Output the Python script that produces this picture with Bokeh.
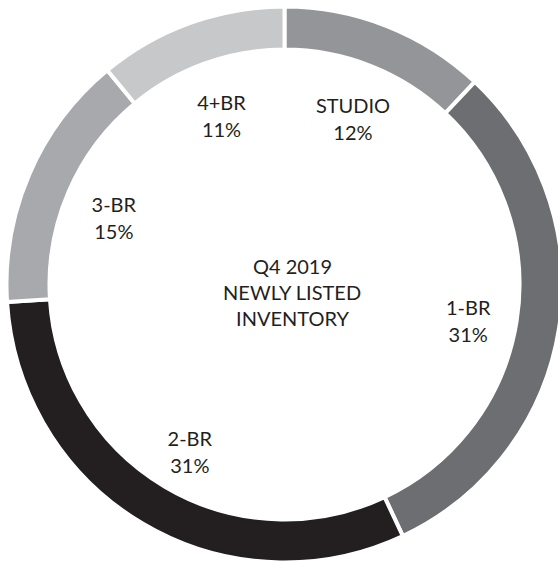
import numpy as np
from bokeh.plotting import figure
from bokeh.models import Range1d, ColumnDataSource
from bokeh.core.properties import value
from bokeh.embed import file_html
from bokeh.resources import INLINE

categories = ["STUDIO", "1-BR", "2-BR", "3-BR", "4+BR"]
shares = [12, 31, 31, 15, 11]
colors = ["#939598", "#6d6e71", "#231f20", "#a7a9ac", "#c7c8ca"]
center_title = ["Q4 2019", "NEWLY LISTED", "INVENTORY"]

W, H = 558, 561
cx, cy = 284, 277
R_out, R_in = 278, 235
R_lab = 186
dy_text = -6

vals = np.array(shares, dtype=float)
frac = vals / vals.sum()
cum = np.concatenate([[0], np.cumsum(frac)])
start = np.pi / 2 - cum[1:] * 2 * np.pi
end = np.pi / 2 - cum[:-1] * 2 * np.pi
mid = (start + end) / 2

p = figure(width=W, height=H, output_backend="svg", toolbar_location=None,
           x_range=Range1d(0, W), y_range=Range1d(0, H), min_border=0)
p.axis.visible = False
p.grid.visible = False
p.outline_line_color = None
p.background_fill_color = "white"

src = ColumnDataSource(dict(x=[cx] * len(shares), y=[cy] * len(shares),
                            start=start, end=end, color=colors))
p.annular_wedge(x="x", y="y", inner_radius=R_in, outer_radius=R_out,
                start_angle="start", end_angle="end", fill_color="color",
                line_color="white", line_width=4, source=src)

font = value("Lato")
lx = cx + R_lab * np.cos(mid)
ly = cy + R_lab * np.sin(mid) + dy_text
p.text(x=lx, y=ly + 13, text=categories, text_align="center", text_baseline="middle",
       text_font=font, text_font_size="20px", text_color="#231f20")
p.text(x=lx, y=ly - 14, text=[f"{s}%" for s in shares], text_align="center",
       text_baseline="middle", text_font=font, text_font_size="20px", text_color="#231f20")

p.text(x=[cx + 8] * 3, y=[cy + 26 + dy_text - 1, cy + dy_text - 1, cy - 26 + dy_text - 1],
       text=center_title, text_align="center",
       text_baseline="middle", text_font=font, text_font_size="20px", text_color="#231f20")

open("out.html", "w").write(file_html(p, INLINE))
